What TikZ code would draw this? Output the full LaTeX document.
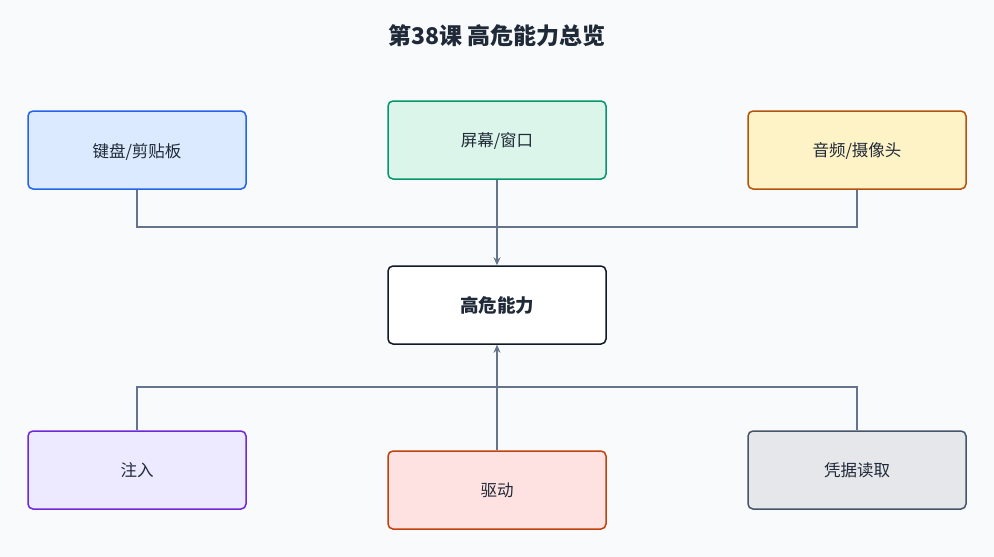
\documentclass[tikz,border=0pt]{standalone}
\usepackage{fontspec}
\setmainfont{Noto Sans CJK SC}
\usetikzlibrary{arrows.meta}
\definecolor{bg}{HTML}{F8FAFC}
\definecolor{ln}{HTML}{64748B}
\definecolor{b1}{HTML}{2563EB}\definecolor{f1}{HTML}{DBEAFE}
\definecolor{b2}{HTML}{059669}\definecolor{f2}{HTML}{DCF5EA}
\definecolor{b3}{HTML}{B45309}\definecolor{f3}{HTML}{FEF3C7}
\definecolor{b4}{HTML}{111827}
\definecolor{b5}{HTML}{6D28D9}\definecolor{f5}{HTML}{EDE9FE}
\definecolor{b6}{HTML}{C2410C}\definecolor{f6}{HTML}{FEE2E2}
\definecolor{b7}{HTML}{475569}\definecolor{f7}{HTML}{E5E7EB}
\definecolor{tx}{HTML}{1F2937}
\begin{document}
\begin{tikzpicture}[x=1pt,y=-1pt,
  box/.style={draw,line width=1.5pt,rounded corners=5pt,minimum width=218pt,minimum height=78pt,font=\fontsize{16.5}{20}\selectfont,text=tx,text depth=0pt},
  con/.style={draw=ln,line width=1.5pt},
  arr/.style={con,-{Stealth[length=8pt,width=7pt]}}]
\fill[bg] (0,0) rectangle (994,557);
\useasboundingbox (0,0) rectangle (994,557);
\node[font=\bfseries\fontsize{23}{27}\selectfont,text=tx] (t) at (497,36) {第38课 高危能力总览};
\node[box,draw=b1,fill=f1] (k) at (137,150) {键盘/剪贴板};
\node[box,draw=b2,fill=f2] (s) at (497,140) {屏幕/窗口};
\node[box,draw=b3,fill=f3] (a) at (857,150) {音频/摄像头};
\node[box,draw=b4,fill=white,font=\bfseries\fontsize{18.5}{22}\selectfont] (c) at (497,305) {高危能力};
\node[box,draw=b5,fill=f5] (i) at (137,470) {注入};
\node[box,draw=b6,fill=f6] (d) at (497,490) {驱动};
\node[box,draw=b7,fill=f7] (p) at (857,470) {凭据读取};
\draw[con] (k.south) |- (497,227) -| (a.south);
\draw[arr] (s.south) -- (c.north);
\draw[con] (i.north) |- (497,387) -| (p.north);
\draw[arr] (d.north) -- (c.south);
\end{tikzpicture}
\end{document}
